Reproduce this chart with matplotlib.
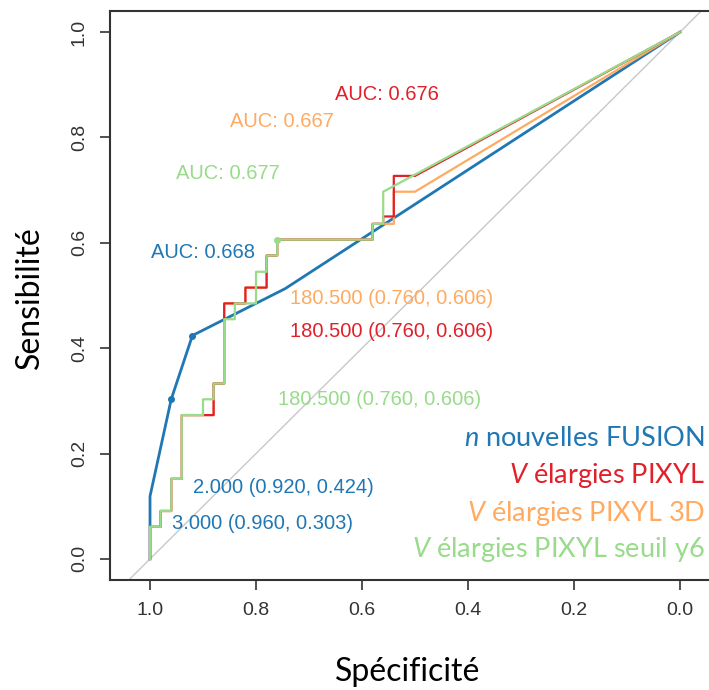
import matplotlib
matplotlib.use("Agg")
import matplotlib.pyplot as plt

# ROC data (specificity, sensitivity)
blue_spec = [1.0, 1.0, 0.96, 0.92, 0.745, 0.0]
blue_sens = [0.0, 0.119, 0.303, 0.424, 0.513, 1.0]

red_spec = [1.0, 1.0, 0.98, 0.98, 0.96, 0.96, 0.94, 0.94, 0.88, 0.88, 0.86, 0.86,
            0.82, 0.82, 0.78, 0.78, 0.76, 0.76, 0.58, 0.58, 0.56, 0.56, 0.54, 0.54, 0.50, 0.0]
red_sens = [0.0, 0.061, 0.061, 0.091, 0.091, 0.152, 0.152, 0.273, 0.273, 0.333, 0.333, 0.485,
            0.485, 0.515, 0.515, 0.576, 0.576, 0.606, 0.606, 0.636, 0.636, 0.65, 0.65, 0.727, 0.727, 1.0]

orange_spec = [1.0, 1.0, 0.98, 0.98, 0.96, 0.96, 0.94, 0.94, 0.88, 0.88, 0.86, 0.86,
               0.82, 0.82, 0.78, 0.78, 0.76, 0.76, 0.58, 0.58, 0.54, 0.54, 0.50, 0.0]
orange_sens = [0.0, 0.061, 0.061, 0.091, 0.091, 0.152, 0.152, 0.273, 0.273, 0.333, 0.333, 0.485,
               0.485, 0.515, 0.515, 0.576, 0.576, 0.606, 0.606, 0.636, 0.636, 0.697, 0.697, 1.0]

green_spec = [1.0, 1.0, 0.98, 0.98, 0.96, 0.96, 0.94, 0.94, 0.90, 0.90, 0.88, 0.88, 0.86, 0.86,
              0.84, 0.84, 0.80, 0.80, 0.78, 0.78, 0.76, 0.76, 0.58, 0.58, 0.56, 0.56, 0.0]
green_sens = [0.0, 0.061, 0.061, 0.091, 0.091, 0.152, 0.152, 0.273, 0.273, 0.303, 0.303, 0.333, 0.333, 0.455,
              0.455, 0.485, 0.485, 0.545, 0.545, 0.576, 0.576, 0.606, 0.606, 0.636, 0.636, 0.697, 1.0]

blue_thr = [(3.0, 0.960, 0.303), (2.0, 0.920, 0.424)]
other_thr = (180.5, 0.760, 0.606)

auc = {"blue": 0.668, "red": 0.676, "orange": 0.667, "green": 0.677}
legend_names = [("n", "nouvelles FUSION"), ("V", "élargies PIXYL"),
                ("V", "élargies PIXYL 3D"), ("V", "élargies PIXYL seuil y6")]

c_blue = "#1f77b4"
c_red = "#e0202a"
c_orange = "#ffaa60"
c_green = "#98db8a"

plt.rcParams["font.family"] = ["Liberation Sans", "DejaVu Sans"]
plt.rcParams["mathtext.fontset"] = "custom"
plt.rcParams["mathtext.it"] = "Lato:italic"
plt.rcParams["mathtext.rm"] = "Lato"

fig = plt.figure(figsize=(7.09, 6.90), dpi=100)
W, H = 709, 690
ax = fig.add_axes([110 / W, (H - 580) / H, (720 - 110) / W, (580 - 11) / H])
ax.set_xlim(1.0755, -0.0755)
ax.set_ylim(-0.04, 1.04)

ax.axline((1, 0), (0, 1), color="#c8c8c8", lw=1.0, zorder=1)

ax.plot(blue_spec, blue_sens, color=c_blue, lw=2.0, zorder=3)
ax.plot(orange_spec, orange_sens, color=c_orange, lw=1.6, zorder=4)
ax.plot(red_spec, red_sens, color=c_red, lw=1.6, zorder=5)
ax.plot(green_spec, green_sens, color=c_green, lw=1.6, zorder=6)

for t, sp, se in blue_thr:
    ax.plot(sp, se, "o", color=c_blue, ms=4, zorder=7)
ax.plot(other_thr[1], other_thr[2], "o", color=c_green, ms=4, zorder=7)

fs = 14.5
ax.text(0.553, 0.881, "AUC: %.3f" % auc["red"], color=c_red, fontsize=fs, ha="center", va="center")
ax.text(0.751, 0.831, "AUC: %.3f" % auc["orange"], color=c_orange, fontsize=fs, ha="center", va="center")
ax.text(0.853, 0.732, "AUC: %.3f" % auc["green"], color=c_green, fontsize=fs, ha="center", va="center")
ax.text(0.900, 0.582, "AUC: %.3f" % auc["blue"], color=c_blue, fontsize=fs, ha="center", va="center")

thr_txt = "%.3f (%.3f, %.3f)" % other_thr
ax.text(0.736, 0.495, thr_txt, color=c_orange, fontsize=fs, ha="left", va="center")
ax.text(0.736, 0.431, thr_txt, color=c_red, fontsize=fs, ha="left", va="center")
ax.text(0.758, 0.303, thr_txt, color=c_green, fontsize=fs, ha="left", va="center")
ax.text(0.919, 0.135, "%.3f (%.3f, %.3f)" % blue_thr[1], color=c_blue, fontsize=fs, ha="left", va="center")
ax.text(0.958, 0.068, "%.3f (%.3f, %.3f)" % blue_thr[0], color=c_blue, fontsize=fs, ha="left", va="center")

ticks = [1.0, 0.8, 0.6, 0.4, 0.2, 0.0]
ax.set_xticks(ticks)
ax.set_xticklabels(["%.1f" % t for t in ticks])
ax.set_yticks(ticks[::-1])
ax.set_yticklabels(["%.1f" % t for t in ticks[::-1]], rotation=90, va="center")
ax.tick_params(length=7, width=1.2, color="#333333", labelsize=14, labelcolor="#333333", pad=9)
for s in ["left", "bottom", "top"]:
    ax.spines[s].set_color("#333333")
    ax.spines[s].set_linewidth(1.5)
ax.spines["right"].set_visible(False)

fig.text(408 / W, 1 - 672 / H, "Spécificité", fontsize=23, family="Lato", ha="center", va="center")
fig.text(30 / W, 1 - 298 / H, "Sensibilité", fontsize=23, family="Lato", rotation=90, ha="center", va="center")

leg_colors = [c_blue, c_red, c_orange, c_green]
leg_y = [439, 476, 513, 549]
for (it, rest), col, y in zip(legend_names, leg_colors, leg_y):
    fig.text(705 / W, 1 - y / H, r"$\mathit{%s}$ %s" % (it, rest), fontsize=19.5, family="Lato",
             color=col, ha="right", va="center")

fig.savefig("out.png", dpi=100)
